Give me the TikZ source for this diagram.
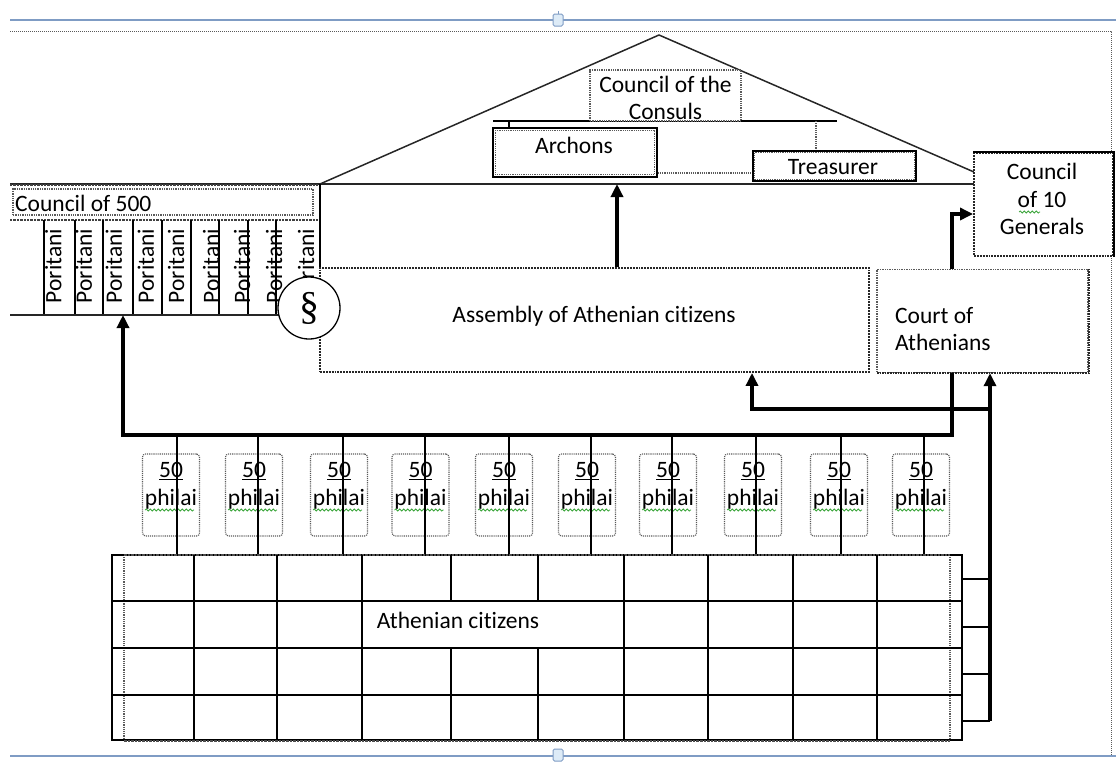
\documentclass[tikz,border=0pt]{standalone}
\usepackage{fontspec}
\setmainfont{Carlito}[Ligatures={NoCommon}]
\newfontfamily\serifS{Liberation Serif}
\usetikzlibrary{arrows.meta,decorations.pathmorphing,calc}
\definecolor{wordblue}{HTML}{7F9CC4}
\definecolor{handlefill}{HTML}{DDEBF7}
\definecolor{dotgray}{HTML}{5A5A5A}
\definecolor{spell}{HTML}{3BA53B}
\tikzset{
 txt/.style={font=\fontsize{23.5}{27.5}\selectfont, inner sep=0pt, align=center},
 ln/.style={line width=1.3pt, draw=black},
 arr/.style={line width=3.8pt, draw=black, -{Triangle[length=13pt,width=12pt]}},
 bus/.style={line width=3.8pt, draw=black},
 dotl/.style={draw=dotgray, densely dotted, line width=1.2pt},
 dotbox/.style={draw=dotgray, densely dotted, line width=1.3pt, inner sep=0pt},
 darkbox/.style={draw=black!85, densely dotted, line width=1.9pt, inner sep=0pt},
 solidbox/.style={draw=black, line width=1.5pt, inner sep=0pt},
 philbox/.style={draw=dotgray, densely dotted, line width=1.1pt, rounded corners=3pt,
   minimum width=57pt, minimum height=82pt, inner sep=0pt},
 spellsq/.style={draw=spell, line width=0.8pt, decorate,
   decoration={snake, amplitude=1pt, segment length=4pt}},
}
\begin{document}
\begin{tikzpicture}[x=1pt,y=-1pt]
\useasboundingbox (0,0) rectangle (1116,761);
% ---- editor canvas frame
\draw[wordblue, line width=1.4pt] (10,20) -- (1116,20);
\draw[wordblue, line width=1.4pt] (10,756) -- (1116,756);
\draw[dotgray, densely dotted, line width=1pt] (10,31) -- (1111,31) -- (1111,756);
\draw[wordblue, line width=1pt] (558,11) -- (558,14);
\foreach \yy in {20,755}{
  \draw[wordblue, line width=1pt, fill=handlefill, rounded corners=1.5pt] (553,\yy-6) rectangle (563,\yy+6);
}
% ---- pediment
\coordinate (apex) at (659,35);
\coordinate (pedL) at (320,184);
\coordinate (pedR) at (974,172);
\draw[line width=1.5pt, black!85] (pedL) -- (apex) -- (pedR);
\draw[line width=1.5pt, black!85] (10,184) -- (974,184);
\draw[line width=2.4pt, black!75, densely dotted] (10,185) -- (320,185);
% consuls rail
\draw[ln] (493,121) -- (837,121);
\draw[ln] (509,121) -- (509,128);
\draw[dotl] (816,121) -- (816,151);
\node[dotbox, fill=white, minimum width=151pt, minimum height=51pt] (consuls) at (665.5,95.5) {};
\node[txt] (consulst) at (665.5,98) {Council of the\\Consuls};
% archons
\node[solidbox, minimum width=164pt, minimum height=49pt] (archons) at (575,152.5) {};
\draw[dotl] ([shift={(3pt,-3pt)}]archons.north west) rectangle ([shift={(-3pt,3pt)}]archons.south east);
\node[txt] (archonst) at (574,145) {Archons};
% treasurer
\node[solidbox, minimum width=163pt, minimum height=30pt] (treasurer) at (834.5,166) {};
\draw[dotl] ([shift={(2.5pt,-2.5pt)}]treasurer.north west) rectangle ([shift={(-2.5pt,2.5pt)}]treasurer.south east);
\node[txt] (treasurert) at (833,167) {Treasurer};
\coordinate (linkA) at ([yshift=-20.5pt]archons.east);
\draw[dotl] (linkA) -- (linkA -| treasurer.west);
% generals
\node[darkbox, fill=white, minimum width=139pt, minimum height=103pt] (generals) at (1043.5,204.5) {};
\draw[line width=1.6pt] (generals.north west) -- (generals.north east) -- (generals.south east);
\node[txt] (generalst) at (1042,199) {Council\\of 10\\Generals};
\draw[spellsq] (1019,212) -- (1040,212);
% ---- council of 500 and prytanies
\node[dotbox, minimum width=300pt, minimum height=26pt] (c500) at (163,202) {};
\node[txt, anchor=west] (c500t) at (15,203) {Council of 500};
\draw[line width=2.4pt, black!75, densely dotted] (10,220) -- (320,220);
\draw[line width=1.5pt] (320,184) -- (320,268);
\foreach \vx in {44,75,103,133,162,191,219,248,276}{
  \draw[line width=1.5pt] (\vx,220) -- (\vx,315);
}
\draw[line width=2.6pt, black!85] (10,315) -- (282,315);
\node[minimum width=310pt, minimum height=95pt, inner sep=0pt] (colonnade) at (165,267.5) {};
\foreach \px in {53.5,84,114,146,176,211,242,274,306}{
  \node[txt, rotate=90] at (\px,266) {Poritani};
}
% ---- assembly and court
\node[darkbox, minimum width=549pt, minimum height=104pt] (assembly) at (594.5,320) {};
\node[txt] (assemblyt) at (594,316) {Assembly of Athenian citizens};
\node[draw=dotgray, densely dotted, line width=1.4pt, inner sep=0pt, minimum width=211pt, minimum height=103pt] (court) at (982.5,321) {};
\draw[line width=1.6pt, black!85, densely dotted] (court.north east) -- (court.south east) -- (court.south west);
\node[txt, anchor=west, align=left] (courtt) at (895,329) {Court of\\Athenians};
\node[circle, draw, fill=white, line width=1.3pt, minimum size=62pt, inner sep=0pt,
  font=\serifS\fontsize{40}{40}\selectfont] (sect) at (309,308) {\S};
% ---- philai
\foreach \i/\bx/\lx in {1/171/177,2/254/258,3/339/343,4/420.5/425,5/504/509,6/587/591,7/668/672,8/753/756,9/839/841,10/921/924}{
  \node[philbox] (ph\i) at (\bx,495) {};
  \node[txt] (pht\i) at (\bx,486) {\underline{50}\\philai};
  \draw[spellsq] (\bx-26,510) -- (\bx+23,510);
  \draw[line width=1.5pt] (\lx,435) -- (\lx,555);
}
% ---- citizens grid
\node[draw, line width=1.3pt, minimum width=850pt, minimum height=185pt, inner sep=0pt] (citizens) at (537,647.5) {};
\draw[line width=2.6pt, black!70, densely dotted] (124,555) -- (950,555);
\draw[line width=2.6pt, black!70, densely dotted] (124,741) -- (950,741);
\draw[dotl] (124,555) -- (124,741);
\draw[dotl] (950,555) -- (950,741);
\foreach \ry in {601,648}{ \draw[ln] (112,\ry) -- (962,\ry); }
\draw[line width=2.2pt] (112,695) -- (962,695);
\foreach \gx in {194,277,362,451,538,624,708,793,877}{
  \draw[ln] (\gx,555) -- (\gx,601);
  \draw[ln] (\gx,648) -- (\gx,740);
}
\foreach \gx in {194,277,362,624,708,793,877}{
  \draw[ln] (\gx,601) -- (\gx,648);
}
\node[txt] (citizenst) at (458,620) {Athenian citizens};
% ---- connectors
\coordinate (asmTop) at ([xshift=22.5pt]assembly.north);
\draw[arr] (asmTop) -- (asmTop |- pedL);
\coordinate (crtTop) at ([xshift=-30.5pt]court.north);
\coordinate (genIn) at ([yshift=-9.5pt]generals.west);
\draw[arr] (crtTop) |- (genIn);
\coordinate (crtBot) at ([xshift=-30.5pt]court.south);
\coordinate (busY) at (0,435);
\coordinate (c500in) at (123,315);
\draw[arr] (crtBot) -- (crtBot |- busY) -- (c500in |- busY) -- (c500in);
\coordinate (crtIn) at ([xshift=7.5pt]court.south);
\coordinate (feedBot) at (990,721);
\draw[arr] (feedBot) -- (crtIn);
\coordinate (branch) at (990,409);
\coordinate (asmIn) at ([xshift=157.5pt]assembly.south);
\draw[arr] (branch) -| (asmIn);
\draw[line width=1.4pt] (950,555) -- (962,555) -- (962,740) -- (950,740);
\draw[line width=1.4pt] (124,555) -- (112,555) -- (112,740) -- (124,740);
\foreach \yy in {579,627,674,721}{
  \draw[ln] (962,\yy) -- (990,\yy);
}
\end{tikzpicture}
\end{document}
